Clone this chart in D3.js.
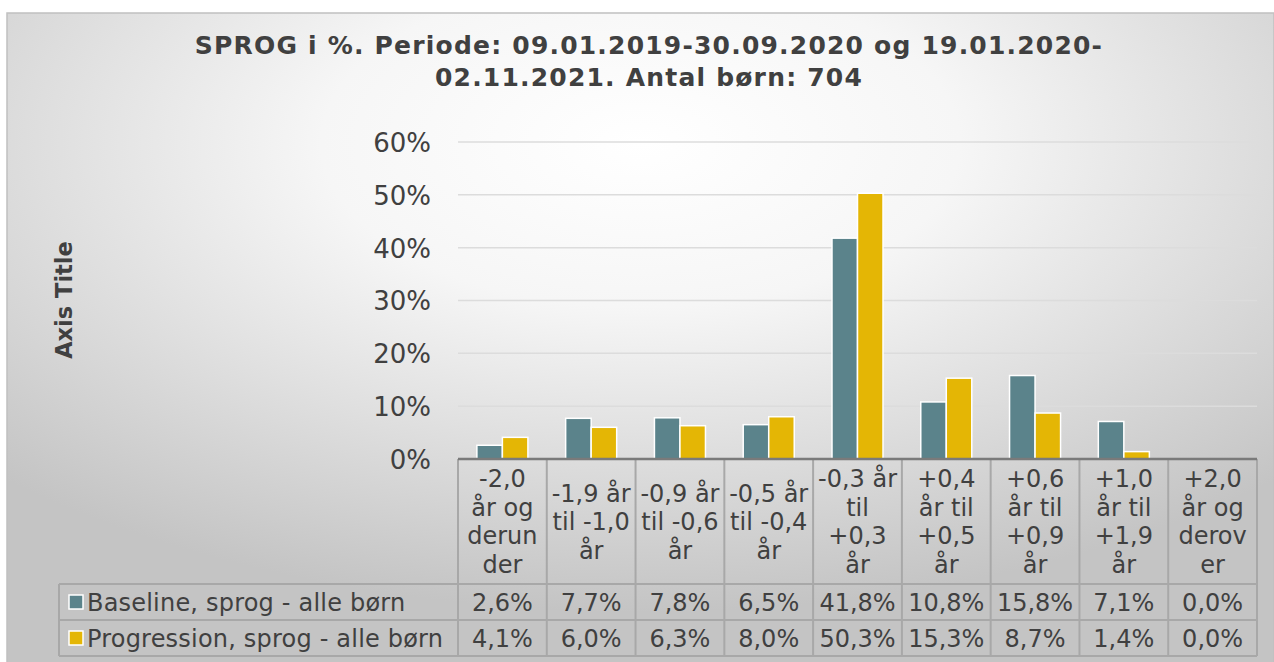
<!DOCTYPE html>
<html>
<head>
<meta charset="utf-8">
<script src="https://cdn.jsdelivr.net/npm/d3@7"></script>
<style>
  body { margin: 0; background: #fff; }
  svg { display: block; font-family: Verdana, "DejaVu Sans", sans-serif; }
</style>
</head>
<body>
<div id="chart"></div>
<script>
// categories (each one wrapped as it is in the table head)
var categories = ["-2,0 år og derunder", "-1,9 år til -1,0 år", "-0,9 år til -0,6 år",
  "-0,5 år til -0,4 år", "-0,3 år til +0,3 år", "+0,4 år til +0,5 år",
  "+0,6 år til +0,9 år", "+1,0 år til +1,9 år", "+2,0 år og derover"]
var categoryLines = [
  ["-2,0", "år og", "derun", "der"],
  ["-1,9 år", "til -1,0", "år"],
  ["-0,9 år", "til -0,6", "år"],
  ["-0,5 år", "til -0,4", "år"],
  ["-0,3 år", "til", "+0,3", "år"],
  ["+0,4", "år til", "+0,5", "år"],
  ["+0,6", "år til", "+0,9", "år"],
  ["+1,0", "år til", "+1,9", "år"],
  ["+2,0", "år og", "derov", "er"]
]
var seriesNames = ["Baseline, sprog - alle børn", "Progression, sprog - alle børn"]
var baseline = [2.6, 7.7, 7.8, 6.5, 41.8, 10.8, 15.8, 7.1, 0.0]
var progression = [4.1, 6.0, 6.3, 8.0, 50.3, 15.3, 8.7, 1.4, 0.0]
var yTicks = [0, 10, 20, 30, 40, 50, 60]
var colors = ["#5b838b", "#e4b605"]

var W = 1274, H = 662
var plot = {left: 458, right: 1257, top: 142, bottom: 459}
var tableLeft = 59, headBottom = 584, rowH = 36
var textCol = "#404040", lineCol = "#a8a8a8"

var svg = d3.select("#chart").append("svg")
  .attr("width", W).attr("height", H)

var defs = svg.append("defs")
var grad = defs.append("radialGradient").attr("id", "bg")
  .attr("cx", "0.5").attr("cy", "0.2").attr("r", "0.72")
grad.append("stop").attr("offset", "0").attr("stop-color", "#ffffff")
grad.append("stop").attr("offset", "0.35").attr("stop-color", "#f6f6f6")
grad.append("stop").attr("offset", "1").attr("stop-color", "#c4c4c4")

svg.append("rect").attr("x", 7).attr("y", 13).attr("width", W - 7).attr("height", H - 13 + 2)
  .attr("fill", "url(#bg)").attr("stroke", "#c0c0c0").attr("stroke-width", 1.5)

// title
svg.append("text").attr("x", 649).attr("text-anchor", "middle")
  .attr("fill", textCol).style("font-weight", "bold").style("font-size", "25px")
  .style("letter-spacing", "1.2px")
  .selectAll("tspan")
  .data(["SPROG i %. Periode: 09.01.2019-30.09.2020 og 19.01.2020-", "02.11.2021. Antal børn: 704"])
  .enter().append("tspan")
  .attr("x", 649).attr("y", function(d, i) { return 54 + i * 32 })
  .text(function(d) { return d })

// axis title
svg.append("text")
  .attr("transform", "translate(72,300) rotate(-90)")
  .attr("text-anchor", "middle").attr("fill", textCol)
  .style("font-weight", "bold").style("font-size", "22.5px")
  .text("Axis Title")

var x = d3.scaleBand().domain(d3.range(categories.length))
  .range([plot.left, plot.right]).paddingInner(0).paddingOuter(0)
var x1 = d3.scaleBand().domain([0, 1]).range([0, x.bandwidth()])
  .paddingInner(0).paddingOuter(0.74)
var y = d3.scaleLinear().domain([0, 60]).range([plot.bottom, plot.top])

// gridlines
svg.append("g").selectAll("line").data(yTicks.slice(1)).enter().append("line")
  .attr("x1", plot.left).attr("x2", plot.right)
  .attr("y1", function(d) { return y(d) }).attr("y2", function(d) { return y(d) })
  .attr("stroke", "#dcdcdc").attr("stroke-width", 1.5)

// y axis
var yAxis = svg.append("g").attr("transform", "translate(" + (plot.left - 27) + ",0)")
  .call(d3.axisLeft(y).tickValues(yTicks).tickSize(0).tickPadding(0)
    .tickFormat(function(d) { return d + "%" }))
yAxis.select(".domain").remove()
yAxis.selectAll("text").attr("fill", textCol).style("font-size", "26px")
  .style("font-family", "Verdana, 'DejaVu Sans', sans-serif").attr("dy", "0.36em")

// bars
var series = [baseline, progression]
var groups = svg.append("g").selectAll("g").data(series).enter().append("g")
  .attr("fill", function(d, i) { return colors[i] })
groups.each(function(s, si) {
  d3.select(this).selectAll("rect").data(s).enter().append("rect")
    .attr("x", function(d, i) { return x(i) + x1(si) })
    .attr("y", function(d) { return y(d) })
    .attr("width", x1.bandwidth())
    .attr("height", function(d) { return y(0) - y(d) })
    .attr("stroke", "#fff").attr("stroke-width", 1.5)
    .style("display", function(d) { return d > 0 ? null : "none" })
})

// data table
var table = svg.append("g")
var tableBottom = headBottom + rowH * 2
d3.range(categories.length + 1).forEach(function(i) {
  var xx = i < categories.length ? x(i) : plot.right
  table.append("line").attr("x1", xx).attr("x2", xx)
    .attr("y1", plot.bottom).attr("y2", tableBottom)
    .attr("stroke", lineCol).attr("stroke-width", 2)
})
table.append("line").attr("x1", tableLeft).attr("x2", tableLeft)
  .attr("y1", headBottom).attr("y2", tableBottom).attr("stroke", lineCol).attr("stroke-width", 2)
;[headBottom, headBottom + rowH, tableBottom].forEach(function(yy) {
  table.append("line").attr("x1", tableLeft).attr("x2", plot.right)
    .attr("y1", yy).attr("y2", yy).attr("stroke", lineCol).attr("stroke-width", 2)
})

// category axis line
svg.append("line").attr("x1", plot.left).attr("x2", plot.right)
  .attr("y1", plot.bottom).attr("y2", plot.bottom)
  .attr("stroke", "#7a7a7a").attr("stroke-width", 2.5)

// header labels
var headMid = (plot.bottom + headBottom) / 2
table.selectAll(".cat").data(categoryLines).enter().append("text")
  .attr("class", "cat").attr("text-anchor", "middle").attr("fill", textCol)
  .style("font-size", "24px")
  .each(function(lines, i) {
    var t = d3.select(this)
    var lh = 28.5
    var start = headMid - (lines.length - 1) * lh / 2
    lines.forEach(function(l, k) {
      t.append("tspan").attr("x", x(i) + x.bandwidth() / 2)
        .attr("y", start + k * lh).attr("dy", "0.36em").text(l)
    })
  })

// value rows
series.forEach(function(s, si) {
  var cy = headBottom + rowH * si + rowH / 2
  table.append("rect").attr("x", 69).attr("y", cy - 7).attr("width", 14).attr("height", 14)
    .attr("fill", colors[si]).attr("stroke", "#fff").attr("stroke-width", 1.5)
  table.append("text").attr("x", 87).attr("y", cy).attr("dy", "0.36em")
    .attr("fill", textCol).style("font-size", "24px").style("letter-spacing", "0.2px")
    .text(seriesNames[si])
  table.selectAll(".v" + si).data(s).enter().append("text")
    .attr("x", function(d, i) { return x(i) + x.bandwidth() / 2 })
    .attr("y", cy).attr("dy", "0.36em").attr("text-anchor", "middle")
    .attr("fill", textCol).style("font-size", "24px")
    .text(function(d) { return d3.format(".1f")(d).replace(".", ",") + "%" })
})
</script>
</body>
</html>
